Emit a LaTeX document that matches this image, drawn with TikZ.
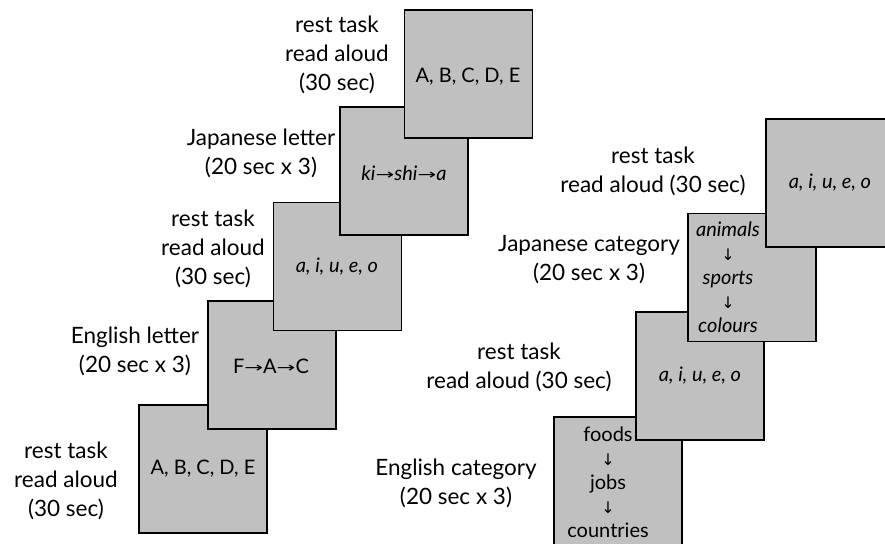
\documentclass[tikz,border=0pt]{standalone}
\usepackage{fontspec}
\setmainfont{Lato}
\newfontfamily\arr{DejaVu Sans}
\definecolor{boxgray}{HTML}{C0C0C0}
\newcommand{\ra}{\raisebox{1pt}{\scalebox{1.6}[1]{\arr\fontsize{14}{14}\selectfont →}}}
\newcommand{\da}{{\arr\fontsize{16}{16}\selectfont ↓}}
\tikzset{
  panel/.style={draw=black, fill=boxgray, line width=1.5pt, minimum width=128pt, minimum height=128pt, inner sep=0pt},
  intext/.style={inner sep=0pt, align=center, font=\fontsize{20}{24}\selectfont},
  lbl/.style={inner sep=0pt, align=center, font=\fontsize{22.5}{29}\selectfont}
}
\begin{document}
\begin{tikzpicture}[x=1pt,y=-1pt]
\useasboundingbox[fill=white] (0,0) rectangle (885,543);
% left stack
\node[panel] (L1) at (203,469) {};
\node[intext] (t1) at (203,469) {A, B, C, D, E};
\node[panel] (L2) at (272,365) {};
\node[intext] (t2) at (271,366) {F\ra A\ra C};
\node[panel] (L3) at (337.5,266.5) {};
\node[intext] (t3) at (337,267) {\itshape a, i, u, e, o};
\node[panel] (L4) at (404,171) {};
\node[intext] (t4) at (404,173) {\itshape ki\ra shi\ra a};
\node[panel] (L5) at (468.5,74) {};
\node[intext] (t5) at (468,77) {A, B, C, D, E};
% right stack
\node[panel] (R1) at (618,481) {};
\node[intext] (u1) at (608,482) {foods\\\da\\jobs\\\da\\countries};
\node[panel] (R2) at (700,376) {};
\node[intext] (u2) at (700,376) {\itshape a, i, u, e, o};
\node[panel] (R3) at (752,277.5) {};
\node[intext] (u3) at (728,277) {\itshape animals\\\da\\\itshape sports\\\da\\\itshape colours};
\node[panel] (R4) at (830,183) {};
\node[intext] (u4) at (830,183) {\itshape a, i, u, e, o};
% labels left
\node[lbl] (la) at (337,55) {rest task\\read aloud\\(30 sec)};
\node[lbl] (lb) at (261,153) {Japanese letter\\(20 sec x 3)};
\node[lbl] (lc) at (213,249) {rest task\\read aloud\\(30 sec)};
\node[lbl] (ld) at (135,351) {English letter\\(20 sec x 3)};
\node[lbl] (le) at (66,481) {rest task\\read aloud\\(30 sec)};
% labels right
\node[lbl] (lf) at (653,171) {rest task\\read aloud (30 sec)};
\node[lbl] (lg) at (589,260) {Japanese category\\(20 sec x 3)};
\node[lbl] (lh) at (519,367) {rest task\\read aloud (30 sec)};
\node[lbl] (li) at (456,483) {English category\\(20 sec x 3)};
\end{tikzpicture}
\end{document}
